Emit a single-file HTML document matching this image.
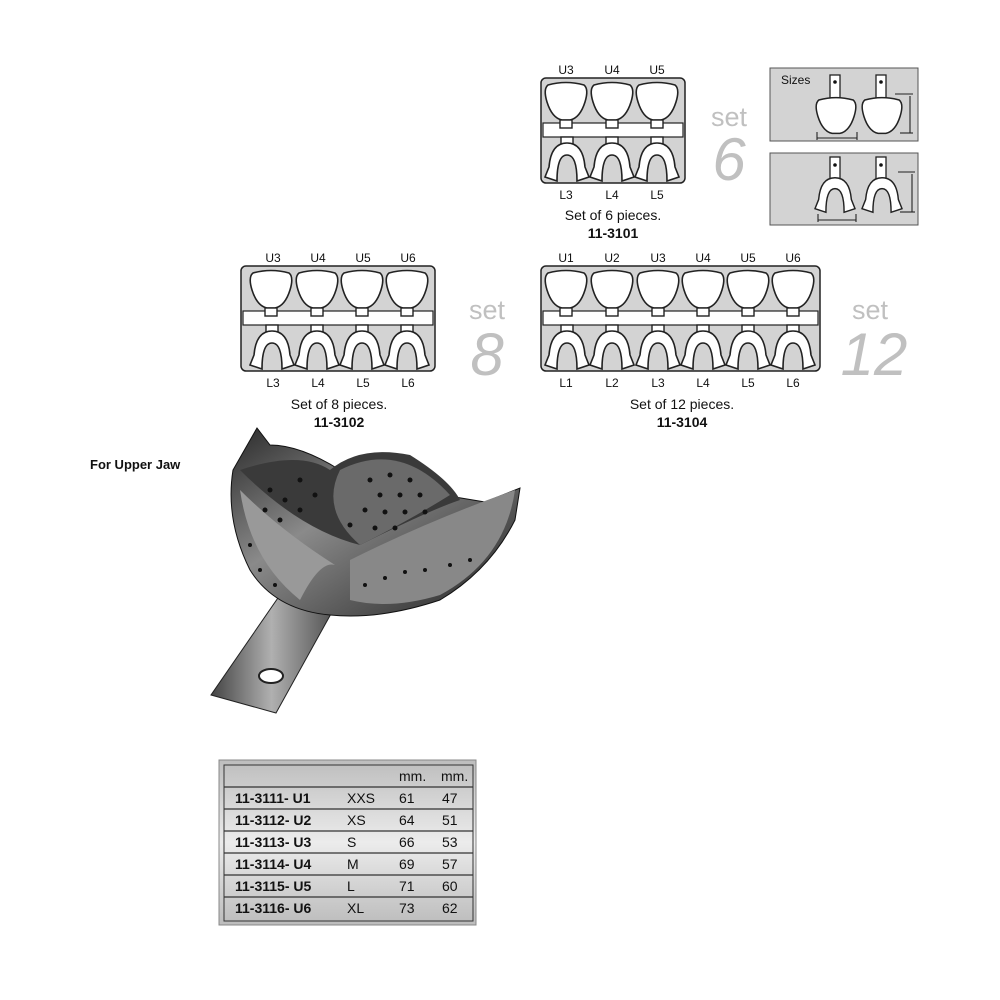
<!DOCTYPE html>
<html><head><meta charset="utf-8"><style>
body{margin:0;background:#fff;}
svg{display:block;font-family:"Liberation Sans",Arial,sans-serif;}
</style></head><body>
<svg width="1000" height="1000" viewBox="0 0 1000 1000" xmlns="http://www.w3.org/2000/svg">
<defs>
<symbol id="sh" viewBox="0 0 44 50" overflow="visible">
<path d="M4 3 Q22 -2 40 3 Q45 7 41 20 Q36 36 26 38 L18 38 Q8 36 3 20 Q-1 7 4 3Z" fill="#fff" stroke="#222" stroke-width="1.6"/>
</symbol>
<symbol id="up" viewBox="0 0 44 50" overflow="visible">
<path d="M4 3 Q22 -2 40 3 Q45 7 41 20 Q36 36 26 38 L18 38 Q8 36 3 20 Q-1 7 4 3Z" fill="#fff" stroke="#222" stroke-width="1.6"/>
<rect x="16" y="38" width="12" height="8" fill="#fff" stroke="#222" stroke-width="1.4"/>
</symbol>
<symbol id="lo" viewBox="0 0 44 50" overflow="visible">
<rect x="16" y="0" width="12" height="7" fill="#fff" stroke="#222" stroke-width="1.4"/>
<path d="M22 6 Q38 6 40 30 L44 40 L32 44 Q32 18 22 18 Q12 18 12 44 L0 40 L4 30 Q6 6 22 6Z" fill="#fff" stroke="#222" stroke-width="1.6"/>
</symbol>
<symbol id="lo2" viewBox="0 0 44 50" overflow="visible">
<path d="M22 6 Q38 6 40 30 L44 40 L32 44 Q32 18 22 18 Q12 18 12 44 L0 40 L4 30 Q6 6 22 6Z" fill="#fff" stroke="#222" stroke-width="1.6"/>
</symbol>
<linearGradient id="tb" x1="0" y1="0" x2="0" y2="1"><stop offset="0" stop-color="#bdbdbd"/><stop offset=".5" stop-color="#ececec"/><stop offset="1" stop-color="#bcbcbc"/></linearGradient>
<linearGradient id="met" x1="0" y1="0" x2="1" y2="1"><stop offset="0" stop-color="#2a2a2a"/><stop offset=".4" stop-color="#8a8a8a"/><stop offset=".7" stop-color="#555"/><stop offset="1" stop-color="#222"/></linearGradient>
<linearGradient id="met2" x1="0" y1="0" x2="1" y2="0"><stop offset="0" stop-color="#444"/><stop offset=".5" stop-color="#b0b0b0"/><stop offset="1" stop-color="#555"/></linearGradient>
</defs>

<!-- Set 6 -->
<g font-size="12" fill="#111" text-anchor="middle">
<text x="566" y="74">U3</text><text x="612" y="74">U4</text><text x="657" y="74">U5</text>
<text x="566" y="199">L3</text><text x="612" y="199">L4</text><text x="657" y="199">L5</text>
</g>
<rect x="541" y="78" width="144" height="105" rx="5" fill="#d3d3d3" stroke="#222" stroke-width="1.5"/>
<rect x="543" y="123" width="140" height="14" fill="#fff" stroke="#222" stroke-width="1.2"/>
<use href="#up" x="544" y="82" width="44" height="50"/><use href="#up" x="590" y="82" width="44" height="50"/><use href="#up" x="635" y="82" width="44" height="50"/>
<use href="#lo" x="545" y="137" width="44" height="50"/><use href="#lo" x="590" y="137" width="44" height="50"/><use href="#lo" x="635" y="137" width="44" height="50"/>
<text x="729" y="126" font-size="27" fill="#c0c0c0" text-anchor="middle">set</text>
<text x="729" y="180" font-size="60" font-style="italic" fill="#c0c0c0" text-anchor="middle">6</text>
<text x="613" y="220" font-size="14" fill="#111" text-anchor="middle">Set of 6 pieces.</text>
<text x="613" y="238" font-size="14" font-weight="bold" fill="#111" text-anchor="middle">11-3101</text>

<!-- Sizes -->
<rect x="770" y="68" width="148" height="73" fill="#d3d3d3" stroke="#555"/>
<text x="781" y="84" font-size="12" fill="#111">Sizes</text>
<g stroke="#222" stroke-width="1.3" fill="#fff">
<rect x="830" y="75" width="10" height="26"/><rect x="876" y="75" width="10" height="26"/>
</g>
<use href="#sh" x="815" y="97" width="42" height="48"/><use href="#sh" x="861" y="97" width="42" height="48"/>
<circle cx="835" cy="82" r="1.8" fill="#111"/><circle cx="881" cy="82" r="1.8" fill="#111"/>
<g stroke="#222" stroke-width="1.1" fill="none">
<line x1="817" y1="138" x2="857" y2="138"/><line x1="817" y1="132" x2="817" y2="140"/><line x1="857" y1="132" x2="857" y2="140"/>
<line x1="910" y1="96" x2="910" y2="133"/><line x1="895" y1="94" x2="913" y2="94"/><line x1="900" y1="133" x2="913" y2="133"/>
</g>
<rect x="770" y="153" width="148" height="72" fill="#d3d3d3" stroke="#555"/>
<g stroke="#222" stroke-width="1.3" fill="#fff">
<rect x="830" y="157" width="10" height="24"/><rect x="876" y="157" width="10" height="24"/>
</g>
<use href="#lo2" x="815" y="172" width="40" height="46"/><use href="#lo2" x="862" y="172" width="40" height="46"/>
<circle cx="835" cy="165" r="1.8" fill="#111"/><circle cx="881" cy="165" r="1.8" fill="#111"/>
<g stroke="#222" stroke-width="1.1" fill="none">
<line x1="818" y1="220" x2="856" y2="220"/><line x1="818" y1="214" x2="818" y2="222"/><line x1="856" y1="214" x2="856" y2="222"/>
<line x1="912" y1="174" x2="912" y2="212"/><line x1="898" y1="172" x2="915" y2="172"/><line x1="900" y1="212" x2="915" y2="212"/>
</g>

<!-- Set 8 -->
<g font-size="12" fill="#111" text-anchor="middle">
<text x="273" y="262">U3</text><text x="318" y="262">U4</text><text x="363" y="262">U5</text><text x="408" y="262">U6</text>
<text x="273" y="387">L3</text><text x="318" y="387">L4</text><text x="363" y="387">L5</text><text x="408" y="387">L6</text>
</g>
<rect x="241" y="266" width="194" height="105" rx="5" fill="#d3d3d3" stroke="#222" stroke-width="1.5"/>
<rect x="243" y="311" width="190" height="14" fill="#fff" stroke="#222" stroke-width="1.2"/>
<use href="#up" x="249" y="270" width="44" height="50"/><use href="#up" x="295" y="270" width="44" height="50"/><use href="#up" x="340" y="270" width="44" height="50"/><use href="#up" x="385" y="270" width="44" height="50"/>
<use href="#lo" x="250" y="325" width="44" height="50"/><use href="#lo" x="295" y="325" width="44" height="50"/><use href="#lo" x="340" y="325" width="44" height="50"/><use href="#lo" x="385" y="325" width="44" height="50"/>
<text x="487" y="319" font-size="27" fill="#c0c0c0" text-anchor="middle">set</text>
<text x="487" y="375" font-size="60" font-style="italic" fill="#c0c0c0" text-anchor="middle">8</text>
<text x="339" y="409" font-size="14" fill="#111" text-anchor="middle">Set of 8 pieces.</text>
<text x="339" y="427" font-size="14" font-weight="bold" fill="#111" text-anchor="middle">11-3102</text>

<!-- Set 12 -->
<g font-size="12" fill="#111" text-anchor="middle">
<text x="566" y="262">U1</text><text x="612" y="262">U2</text><text x="658" y="262">U3</text><text x="703" y="262">U4</text><text x="748" y="262">U5</text><text x="793" y="262">U6</text>
<text x="566" y="387">L1</text><text x="612" y="387">L2</text><text x="658" y="387">L3</text><text x="703" y="387">L4</text><text x="748" y="387">L5</text><text x="793" y="387">L6</text>
</g>
<rect x="541" y="266" width="279" height="105" rx="5" fill="#d3d3d3" stroke="#222" stroke-width="1.5"/>
<rect x="543" y="311" width="275" height="14" fill="#fff" stroke="#222" stroke-width="1.2"/>
<use href="#up" x="544" y="270" width="44" height="50"/><use href="#up" x="590" y="270" width="44" height="50"/><use href="#up" x="636" y="270" width="44" height="50"/><use href="#up" x="681" y="270" width="44" height="50"/><use href="#up" x="726" y="270" width="44" height="50"/><use href="#up" x="771" y="270" width="44" height="50"/>
<use href="#lo" x="545" y="325" width="44" height="50"/><use href="#lo" x="590" y="325" width="44" height="50"/><use href="#lo" x="636" y="325" width="44" height="50"/><use href="#lo" x="681" y="325" width="44" height="50"/><use href="#lo" x="726" y="325" width="44" height="50"/><use href="#lo" x="771" y="325" width="44" height="50"/>
<text x="870" y="319" font-size="27" fill="#c0c0c0" text-anchor="middle">set</text>
<text x="874" y="375" font-size="60" font-style="italic" fill="#c0c0c0" text-anchor="middle">12</text>
<text x="682" y="409" font-size="14" fill="#111" text-anchor="middle">Set of 12 pieces.</text>
<text x="682" y="427" font-size="14" font-weight="bold" fill="#111" text-anchor="middle">11-3104</text>

<!-- Tray photo -->
<text x="90" y="469" font-size="13" font-weight="bold" fill="#111">For Upper Jaw</text>
<path d="M211 695 L276 713 L332 612 L280 595Z" fill="url(#met2)" stroke="#222"/>
<ellipse cx="271" cy="676" rx="12" ry="7" fill="#fff" stroke="#222" stroke-width="2"/>
<path d="M257 428 L233 470 Q225 520 250 570 Q275 610 330 615 Q380 620 440 600 Q490 570 515 520 L520 488 L485 502 L455 497 Q440 470 400 455 Q360 455 340 470 Q300 445 270 445Z" fill="url(#met)" stroke="#111"/>
<path d="M240 470 Q300 450 330 470 Q360 445 410 455 Q450 480 460 500 Q430 510 360 545 Q300 530 240 470Z" fill="#3a3a3a"/>
<path d="M340 470 Q400 440 450 495 Q410 520 360 545 Q320 510 340 470Z" fill="#6a6a6a"/>
<path d="M240 490 Q250 560 300 600 Q320 560 335 565 Q280 530 240 490Z" fill="#999"/>
<path d="M350 560 Q430 520 515 490 Q505 560 440 595 Q390 610 350 600Z" fill="#888"/>
<g fill="#111">
<circle cx="370" cy="480" r="2.5"/><circle cx="390" cy="475" r="2.5"/><circle cx="410" cy="480" r="2.5"/><circle cx="380" cy="495" r="2.5"/><circle cx="400" cy="495" r="2.5"/><circle cx="420" cy="495" r="2.5"/><circle cx="365" cy="510" r="2.5"/><circle cx="385" cy="512" r="2.5"/><circle cx="405" cy="512" r="2.5"/><circle cx="425" cy="512" r="2.5"/><circle cx="375" cy="528" r="2.5"/><circle cx="395" cy="528" r="2.5"/><circle cx="350" cy="525" r="2.5"/>
<circle cx="270" cy="490" r="2.5"/><circle cx="285" cy="500" r="2.5"/><circle cx="300" cy="510" r="2.5"/><circle cx="265" cy="510" r="2.5"/><circle cx="280" cy="520" r="2.5"/><circle cx="300" cy="480" r="2.5"/><circle cx="315" cy="495" r="2.5"/>
<circle cx="365" cy="585" r="2"/><circle cx="385" cy="578" r="2"/><circle cx="405" cy="572" r="2"/><circle cx="425" cy="570" r="2"/><circle cx="450" cy="565" r="2"/><circle cx="470" cy="560" r="2"/>
<circle cx="250" cy="545" r="2"/><circle cx="260" cy="570" r="2"/><circle cx="275" cy="585" r="2"/>
</g>

<!-- Table -->
<rect x="219" y="760" width="257" height="165" fill="url(#tb)" stroke="#888"/>
<rect x="224" y="765" width="249" height="156" fill="none" stroke="#333"/>
<g stroke="#333" stroke-width="1.2">
<line x1="224" y1="787" x2="473" y2="787"/><line x1="224" y1="809" x2="473" y2="809"/><line x1="224" y1="831" x2="473" y2="831"/><line x1="224" y1="853" x2="473" y2="853"/><line x1="224" y1="875" x2="473" y2="875"/><line x1="224" y1="897" x2="473" y2="897"/>
</g>
<g font-size="14" fill="#111">
<text x="399" y="781">mm.</text><text x="441" y="781">mm.</text>
<g font-weight="bold"><text x="235" y="803">11-3111- U1</text><text x="235" y="825">11-3112- U2</text><text x="235" y="847">11-3113- U3</text><text x="235" y="869">11-3114- U4</text><text x="235" y="891">11-3115- U5</text><text x="235" y="913">11-3116- U6</text></g>
<text x="347" y="803">XXS</text><text x="347" y="825">XS</text><text x="347" y="847">S</text><text x="347" y="869">M</text><text x="347" y="891">L</text><text x="347" y="913">XL</text>
<text x="399" y="803">61</text><text x="399" y="825">64</text><text x="399" y="847">66</text><text x="399" y="869">69</text><text x="399" y="891">71</text><text x="399" y="913">73</text>
<text x="442" y="803">47</text><text x="442" y="825">51</text><text x="442" y="847">53</text><text x="442" y="869">57</text><text x="442" y="891">60</text><text x="442" y="913">62</text>
</g>
</svg>
</body></html>
